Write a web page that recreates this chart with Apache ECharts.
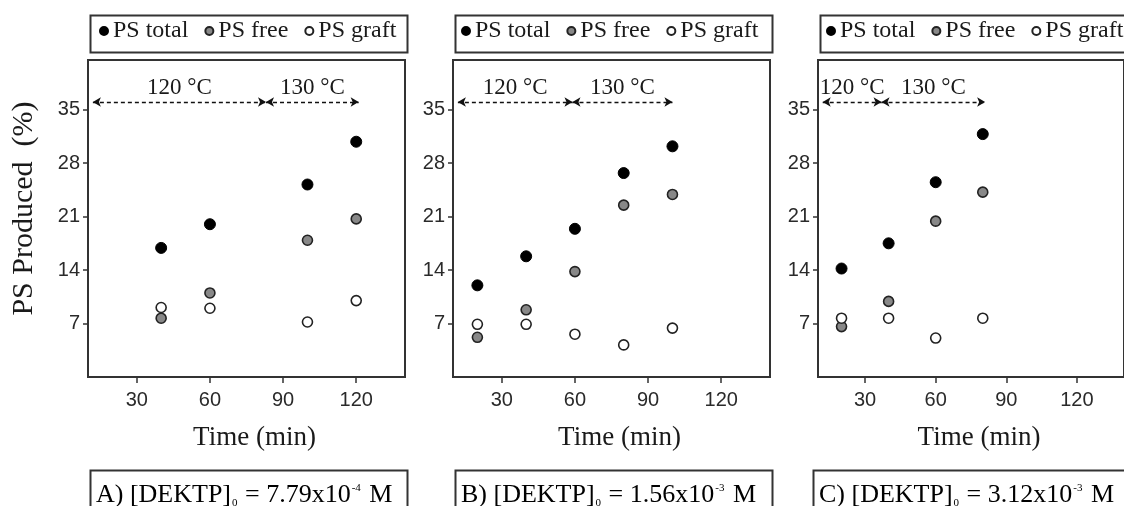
<!DOCTYPE html>
<html>
<head>
<meta charset="utf-8">
<script src="https://cdn.jsdelivr.net/npm/echarts@6/dist/echarts.min.js"></script>
<style>
  html, body { margin: 0; padding: 0; background: #fff; }
  #chart { width: 1124px; height: 506px; }
</style>
</head>
<body>
<div id="chart"></div>
<script>
// Axis ticks shared by the three panels
const xTicks = [30, 60, 90, 120];
const yTicks = [7, 14, 21, 28, 35];
const seriesNames = ['PS total', 'PS free', 'PS graft'];

// Panel A: [DEKTP]0 = 7.79x10^-4 M
const timeA = [40, 60, 100, 120];
const totalA = [16.9, 20.0, 25.2, 30.8];
const freeA = [7.7, 11.0, 17.9, 20.7];
const graftA = [9.1, 9.0, 7.2, 10.0];

// Panel B: [DEKTP]0 = 1.56x10^-3 M
const timeB = [20, 40, 60, 80, 100];
const totalB = [12.0, 15.8, 19.4, 26.7, 30.2];
const freeB = [5.2, 8.8, 13.8, 22.5, 23.9];
const graftB = [6.9, 6.9, 5.6, 4.2, 6.4];

// Panel C: [DEKTP]0 = 3.12x10^-3 M
const timeC = [20, 40, 60, 80];
const totalC = [14.2, 17.5, 25.5, 31.8];
const freeC = [6.6, 9.9, 20.4, 24.2];
const graftC = [7.7, 7.7, 5.1, 7.7];

// Temperature stages (min): 120 °C until the switch time, then 130 °C
const stageLabels = ['120 °C', '130 °C'];
const stageStart = 12;
const switchTime = [83, 59, 37];
const stageEnd = [121, 100, 81];

// Captions
const panelLetters = ['A', 'B', 'C'];
const concMantissa = ['7.79', '1.56', '3.12'];
const concExponent = ['-4', '-3', '-3'];

const panels = [
  { time: timeA, total: totalA, free: freeA, graft: graftA },
  { time: timeB, total: totalB, free: freeB, graft: graftB },
  { time: timeC, total: totalC, free: freeC, graft: graftC }
];

const SERIF = '"Liberation Serif", "Times New Roman", serif';
const SANS = '"Liberation Sans Narrow", "Arial Narrow", "Liberation Sans", Arial, sans-serif';
const INK = '#1a1a1a';
const FRAME = '#333';

const gridLeft = [88, 453, 818];
const gridTop = 60, gridW = 317, gridH = 317;
const legendLeft = [99, 461, 826];
const captionLeft = [88, 453, 811];

const pairs = (xs, ys) => xs.map((x, i) => [x, ys[i]]);

const grids = [], xAxes = [], yAxes = [], series = [], legends = [], graphics = [];

panels.forEach((p, k) => {
  grids.push({
    left: gridLeft[k], top: gridTop, width: gridW, height: gridH,
    show: true, borderColor: FRAME, borderWidth: 2, backgroundColor: 'transparent'
  });
  xAxes.push({
    gridIndex: k, type: 'value', min: 10, max: 140,
    name: 'Time (min)', nameLocation: 'middle', nameGap: 47, nameMoveOverlap: false,
    nameTextStyle: { fontFamily: SERIF, fontSize: 27, color: INK, padding: [0, 0, 0, 16] },
    splitLine: { show: false },
    axisLine: { show: true, onZero: false, lineStyle: { color: FRAME, width: 2 } },
    axisTick: { show: true, length: 6, customValues: xTicks, lineStyle: { color: FRAME, width: 1.5 } },
    axisLabel: { customValues: xTicks, margin: 13, fontFamily: SANS, fontSize: 20, color: '#2a2a2a' }
  });
  yAxes.push({
    gridIndex: k, type: 'value', min: 0, max: 41.5,
    name: k === 0 ? 'PS Produced  (%)' : '',
    nameLocation: 'middle', nameGap: 49, nameMoveOverlap: false,
    nameTextStyle: { fontFamily: SERIF, fontSize: 30, color: INK, padding: [0, 0, 0, 20] },
    splitLine: { show: false },
    axisLine: { show: true, onZero: false, lineStyle: { color: FRAME, width: 2 } },
    axisTick: { show: true, length: 5, customValues: yTicks, lineStyle: { color: FRAME, width: 1.5 } },
    axisLabel: { customValues: yTicks, margin: 8, fontFamily: SANS, fontSize: 20, color: '#2a2a2a' }
  });

  const arrowLevel = 36;
  series.push({
    name: seriesNames[0], type: 'scatter', xAxisIndex: k, yAxisIndex: k,
    data: pairs(p.time, p.total), symbol: 'circle', symbolSize: 11,
    itemStyle: { color: '#000', borderColor: '#000', borderWidth: 1, opacity: 1 },
    markLine: {
      silent: true, animation: false,
      symbol: ['arrow', 'arrow'], symbolSize: [7, 8],
      lineStyle: { color: '#111', width: 1.4, type: [4, 3], opacity: 1 },
      label: { show: true, position: 'middle', distance: 3, fontFamily: SERIF, fontSize: 23, color: INK, formatter: (d) => d.name },
      data: [
        [{ name: stageLabels[0], coord: [stageStart, arrowLevel] }, { coord: [switchTime[k], arrowLevel] }],
        [{ name: stageLabels[1], coord: [switchTime[k], arrowLevel] }, { coord: [stageEnd[k], arrowLevel] }]
      ]
    }
  });
  series.push({
    name: seriesNames[1], type: 'scatter', xAxisIndex: k, yAxisIndex: k,
    data: pairs(p.time, p.free), symbol: 'circle', symbolSize: 10,
    itemStyle: { color: '#888', borderColor: '#222', borderWidth: 1.6, opacity: 1 }
  });
  series.push({
    name: seriesNames[2], type: 'scatter', xAxisIndex: k, yAxisIndex: k,
    data: pairs(p.time, p.graft), symbol: 'circle', symbolSize: 10,
    itemStyle: { color: '#fff', borderColor: '#222', borderWidth: 1.6, opacity: 1 }
  });

  legends.push({
    data: seriesNames, left: legendLeft[k], top: 18, width: 360, padding: 0,
    orient: 'horizontal', icon: 'circle', itemWidth: 8, itemHeight: 8, itemGap: 16,
    selectedMode: false,
    textStyle: { fontFamily: SERIF, fontSize: 24, color: INK, lineHeight: 26 }
  });

  // legend frame
  graphics.push({
    type: 'rect', left: gridLeft[k], top: 13, silent: true,
    shape: { width: gridW, height: 37 },
    style: { fill: 'none', stroke: FRAME, lineWidth: 2 }
  });
  // caption frame and caption
  graphics.push({
    type: 'rect', left: captionLeft[k], top: 468, silent: true,
    shape: { width: gridW, height: 60 },
    style: { fill: 'none', stroke: FRAME, lineWidth: 2 }
  });
  graphics.push({
    type: 'text', x: captionLeft[k] + 8, y: 495, silent: true,
    style: {
      text: '{m|' + panelLetters[k] + ') [DEKTP]}{sub|0}{m| = ' + concMantissa[k] + 'x10}{sup|' + concExponent[k] + '}{m| M}',
      verticalAlign: 'middle',
      rich: {
        m: { fontFamily: SERIF, fontSize: 26, color: INK, lineHeight: 30 },
        sub: { fontFamily: SERIF, fontSize: 11, color: INK, lineHeight: 30, padding: [16, 1, 0, 1] },
        sup: { fontFamily: SERIF, fontSize: 11, color: INK, lineHeight: 30, padding: [0, 2, 14, 1] }
      }
    }
  });
});

const chart = echarts.init(document.getElementById('chart'), null, { renderer: 'canvas' });
chart.setOption({
  animation: false,
  backgroundColor: '#fff',
  grid: grids,
  xAxis: xAxes,
  yAxis: yAxes,
  legend: legends,
  series: series,
  graphic: graphics
});
</script>
</body>
</html>
